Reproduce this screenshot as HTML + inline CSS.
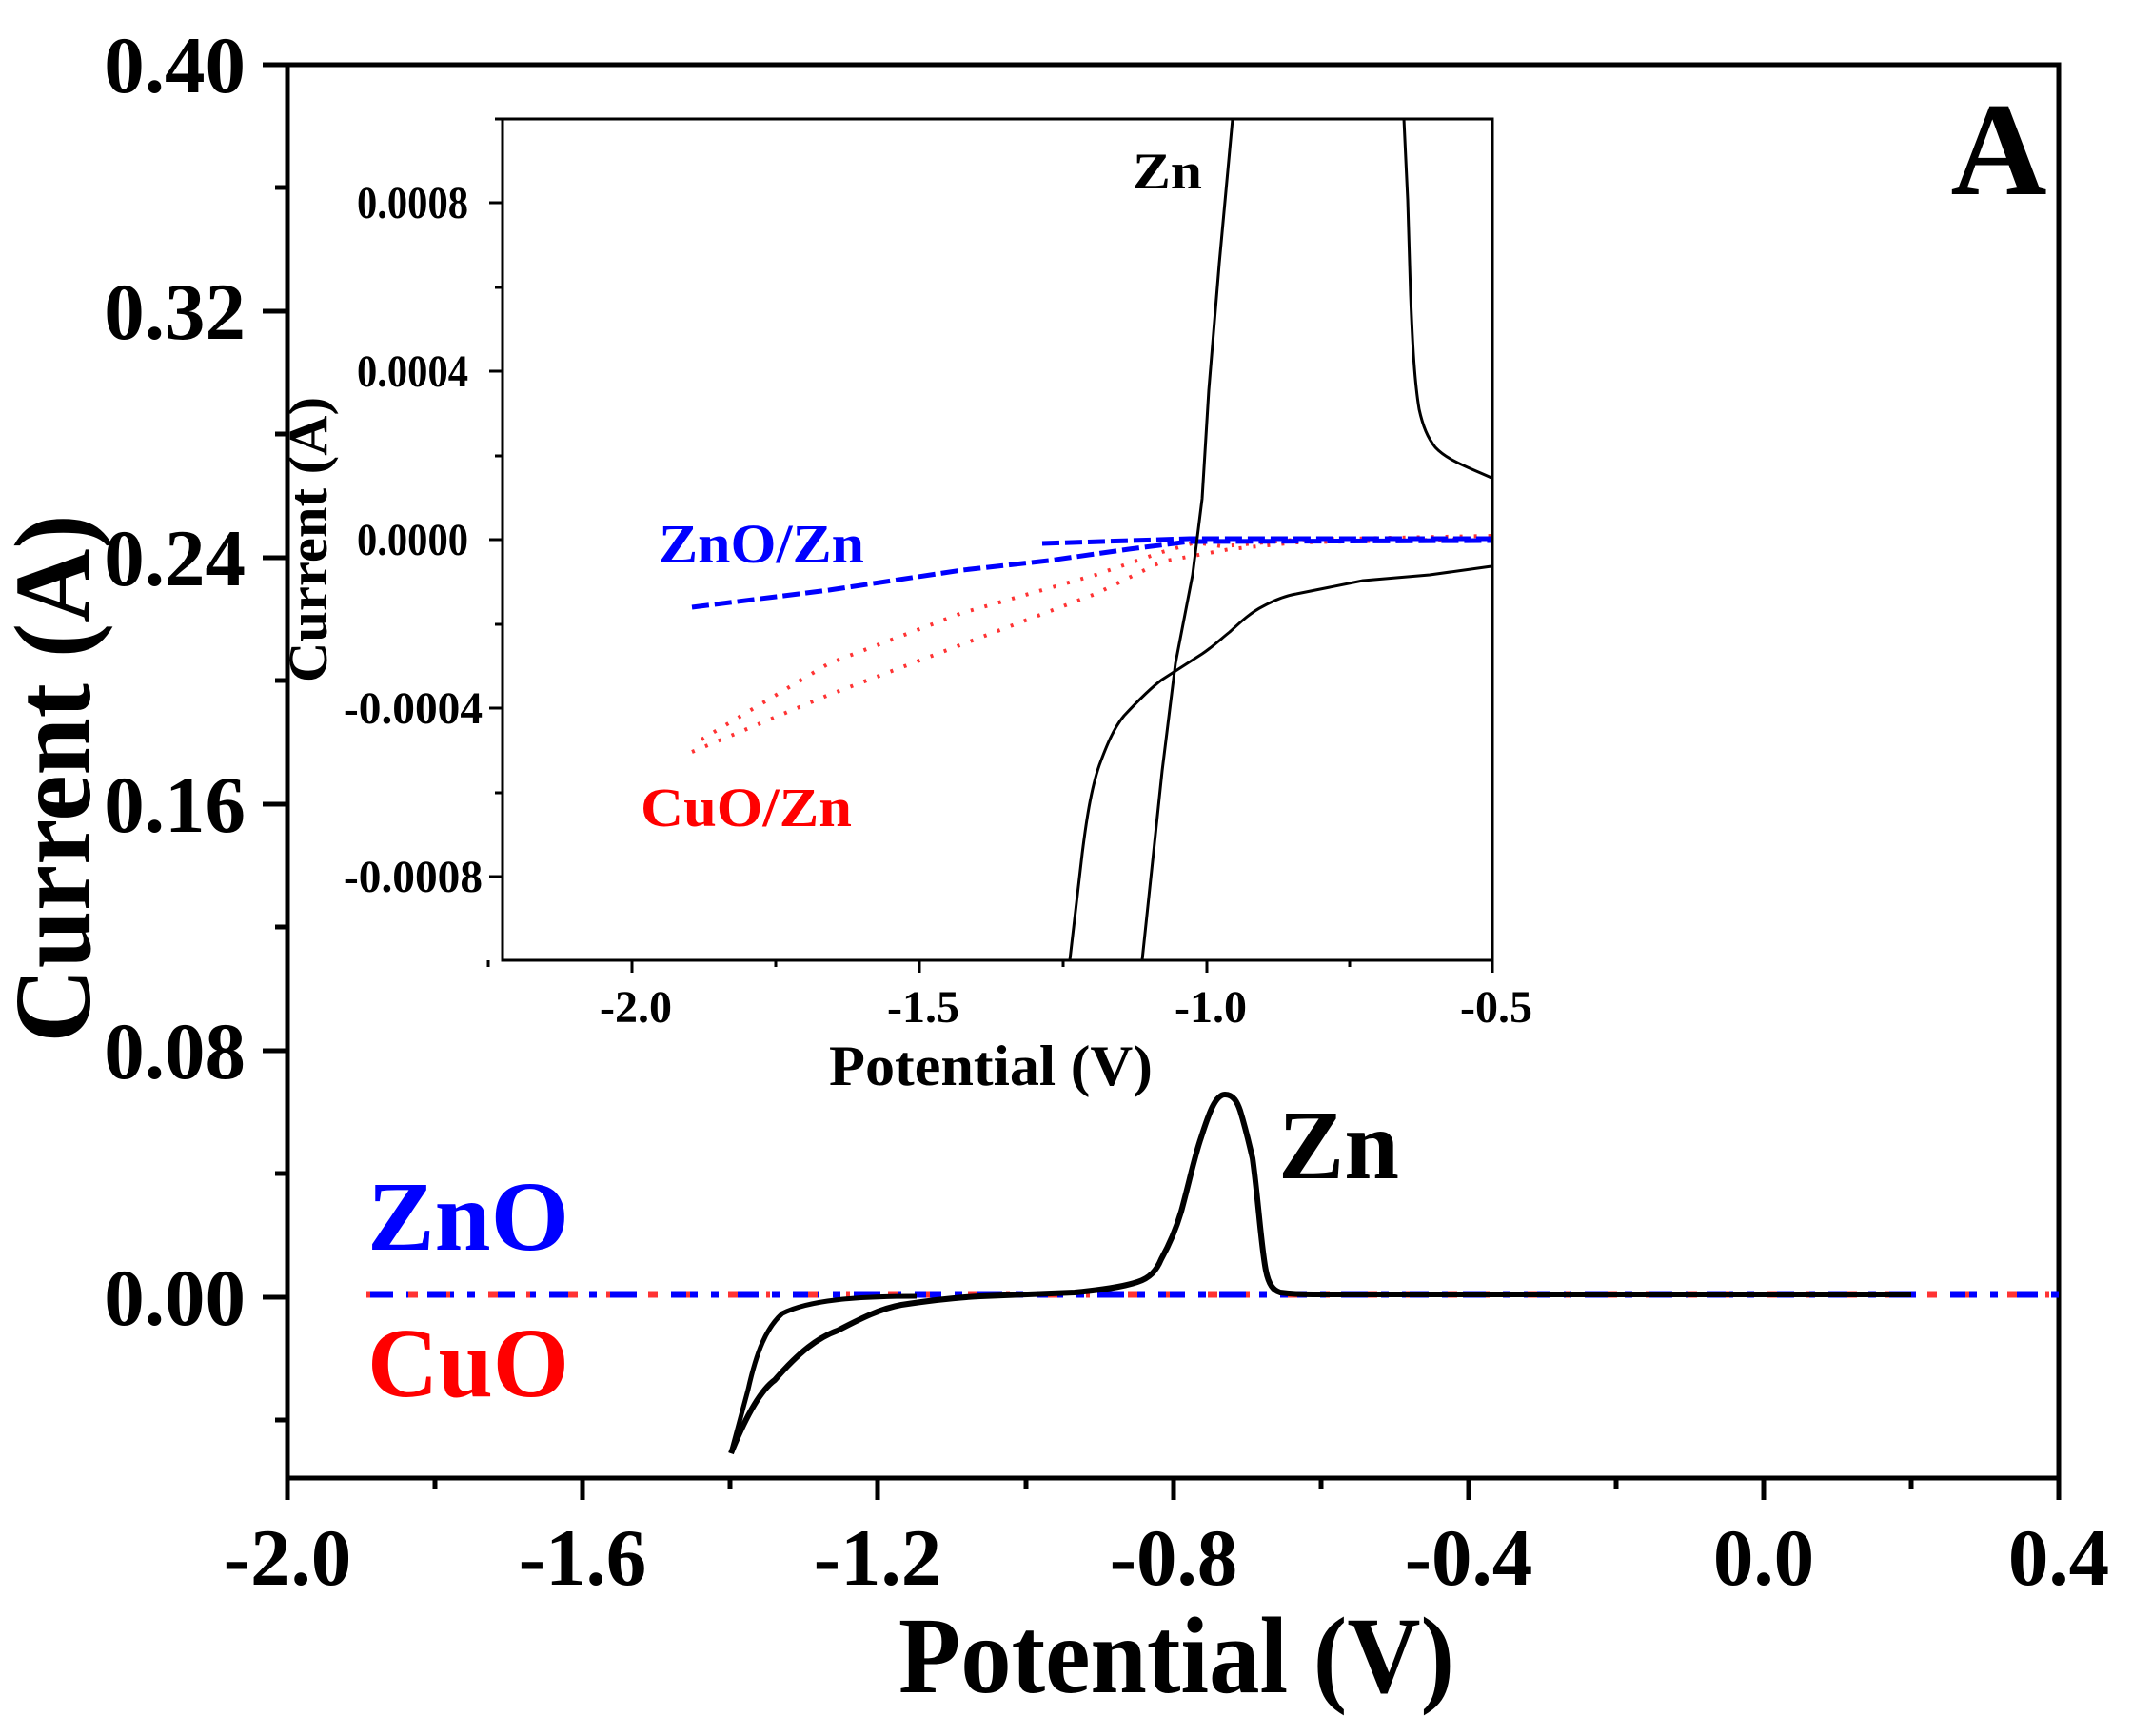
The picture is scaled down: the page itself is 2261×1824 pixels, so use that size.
<!DOCTYPE html>
<html><head><meta charset="utf-8"><style>html,body{margin:0;padding:0;background:#fff}svg{display:block}</style></head>
<body>
<svg width="2261" height="1824" viewBox="0 0 2261 1824" xmlns="http://www.w3.org/2000/svg" font-family="Liberation Serif, serif" font-weight="bold">
<rect x="302" y="68" width="1861" height="1485" fill="none" stroke="#000" stroke-width="5"/>
<g stroke="#000" stroke-width="5">
<line x1="302" y1="1553" x2="302" y2="1576"/><line x1="612" y1="1553" x2="612" y2="1576"/><line x1="922" y1="1553" x2="922" y2="1576"/><line x1="1233" y1="1553" x2="1233" y2="1576"/><line x1="1543" y1="1553" x2="1543" y2="1576"/><line x1="1853" y1="1553" x2="1853" y2="1576"/><line x1="2163" y1="1553" x2="2163" y2="1576"/>
<line x1="457" y1="1553" x2="457" y2="1565"/><line x1="767" y1="1553" x2="767" y2="1565"/><line x1="1078" y1="1553" x2="1078" y2="1565"/><line x1="1388" y1="1553" x2="1388" y2="1565"/><line x1="1698" y1="1553" x2="1698" y2="1565"/><line x1="2008" y1="1553" x2="2008" y2="1565"/>
<line x1="276" y1="68" x2="302" y2="68"/><line x1="276" y1="327" x2="302" y2="327"/><line x1="276" y1="586" x2="302" y2="586"/><line x1="276" y1="845" x2="302" y2="845"/><line x1="276" y1="1104" x2="302" y2="1104"/><line x1="276" y1="1363" x2="302" y2="1363"/>
<line x1="289" y1="197" x2="302" y2="197"/><line x1="289" y1="456" x2="302" y2="456"/><line x1="289" y1="715" x2="302" y2="715"/><line x1="289" y1="974" x2="302" y2="974"/><line x1="289" y1="1233" x2="302" y2="1233"/><line x1="289" y1="1492" x2="302" y2="1492"/>
</g>
<g font-size="85" text-anchor="end">
<text x="258" y="97">0.40</text><text x="258" y="356">0.32</text><text x="258" y="615">0.24</text><text x="258" y="874">0.16</text><text x="258" y="1133">0.08</text><text x="258" y="1392">0.00</text>
</g>
<g font-size="85" text-anchor="middle">
<text x="302" y="1665">-2.0</text><text x="612" y="1665">-1.6</text><text x="922" y="1665">-1.2</text><text x="1233" y="1665">-0.8</text><text x="1543" y="1665">-0.4</text><text x="1853" y="1665">0.0</text><text x="2163" y="1665">0.4</text>
</g>
<text x="944" y="1778" font-size="114" textLength="584" lengthAdjust="spacingAndGlyphs">Potential (V)</text>
<text transform="translate(94,818) rotate(-90)" font-size="114" text-anchor="middle" textLength="555" lengthAdjust="spacingAndGlyphs">Current (A)</text>
<text x="2100" y="204" font-size="140" text-anchor="middle">A</text>
<line x1="385" y1="1360" x2="2163" y2="1360" stroke="#0000ff" stroke-width="7" stroke-dasharray="28,14,8,14"/>
<line x1="385" y1="1360" x2="2163" y2="1360" stroke="#ff3333" stroke-width="7" stroke-dasharray="4,40,10,30"/>
<g fill="none" stroke="#000" stroke-width="5" stroke-linejoin="round">
<path d="M963,1362 C900,1362 850,1366 822,1380 C805,1395 795,1420 786,1460 L768,1527"/>
<path d="M768,1527 C785,1485 800,1460 814,1450 C840,1420 860,1405 880,1398 C905,1385 925,1375 947,1371 C980,1366 1010,1363 1030,1362 L1129,1358 C1160,1355 1180,1352 1195,1347 C1208,1343 1215,1335 1220,1323 C1230,1305 1236,1290 1241,1273 C1250,1240 1255,1215 1262,1195 C1270,1170 1277,1150 1287,1150 C1296,1150 1300,1158 1303,1167 C1310,1190 1313,1205 1316,1217 C1322,1260 1325,1310 1330,1335 C1333,1350 1338,1356 1345,1358 C1360,1360 1370,1360 1380,1360 L2008,1360" stroke-width="6"/>
</g>
<text x="1343" y="1238" font-size="104" textLength="127" lengthAdjust="spacingAndGlyphs">Zn</text>
<text x="386" y="1313" font-size="104" fill="#0000ff" textLength="212" lengthAdjust="spacingAndGlyphs">ZnO</text>
<text x="386" y="1467" font-size="104" fill="#ff0000" textLength="212" lengthAdjust="spacingAndGlyphs">CuO</text>
<rect x="528" y="125" width="1040" height="884" fill="#fff" stroke="#000" stroke-width="3"/>
<g stroke="#000" stroke-width="3">
<line x1="513" y1="1009" x2="513" y2="1016"/><line x1="664" y1="1009" x2="664" y2="1022"/><line x1="815" y1="1009" x2="815" y2="1016"/><line x1="966" y1="1009" x2="966" y2="1022"/><line x1="1117" y1="1009" x2="1117" y2="1016"/><line x1="1268" y1="1009" x2="1268" y2="1022"/><line x1="1418" y1="1009" x2="1418" y2="1016"/><line x1="1568" y1="1009" x2="1568" y2="1022"/>
<line x1="514" y1="213" x2="528" y2="213"/><line x1="514" y1="390" x2="528" y2="390"/><line x1="514" y1="567" x2="528" y2="567"/><line x1="514" y1="744" x2="528" y2="744"/><line x1="514" y1="921" x2="528" y2="921"/>
<line x1="520" y1="125" x2="528" y2="125"/><line x1="520" y1="302" x2="528" y2="302"/><line x1="520" y1="479" x2="528" y2="479"/><line x1="520" y1="656" x2="528" y2="656"/><line x1="520" y1="833" x2="528" y2="833"/>
</g>
<g font-size="48" text-anchor="end">
<text x="492" y="229" textLength="117" lengthAdjust="spacingAndGlyphs">0.0008</text><text x="492" y="406" textLength="117" lengthAdjust="spacingAndGlyphs">0.0004</text><text x="492" y="583" textLength="117" lengthAdjust="spacingAndGlyphs">0.0000</text><text x="507" y="760" textLength="146" lengthAdjust="spacingAndGlyphs">-0.0004</text><text x="507" y="937" textLength="146" lengthAdjust="spacingAndGlyphs">-0.0008</text>
</g>
<g font-size="48" text-anchor="middle">
<text x="668" y="1074">-2.0</text><text x="970" y="1074">-1.5</text><text x="1272" y="1074">-1.0</text><text x="1572" y="1074">-0.5</text>
</g>
<text x="871" y="1140" font-size="60" textLength="340" lengthAdjust="spacingAndGlyphs">Potential (V)</text>
<text transform="translate(343,567) rotate(-90)" font-size="58" text-anchor="middle" textLength="300" lengthAdjust="spacingAndGlyphs">Current (A)</text>
<g fill="none" stroke-linejoin="round">
<path d="M727,790 L871,730 L1011,677 L1151,624 L1221,590 L1292,577 L1362,570 L1567,566" stroke="#ff3333" stroke-width="4" stroke-dasharray="3,12"/>
<path d="M737,777 L871,697 L1011,644 L1151,604 L1221,580 L1256,570 L1284,574 L1362,567 L1567,563" stroke="#ff3333" stroke-width="4" stroke-dasharray="3,12"/>
<path d="M727,638 L871,620 L1011,599 L1102,589 L1186,577 L1250,569 L1567,568" stroke="#0000ff" stroke-width="5" stroke-dasharray="18,6"/>
<path d="M1095,571 L1250,566 L1567,566" stroke="#0000ff" stroke-width="5" stroke-dasharray="18,6"/>
<path d="M1200,1009 L1221,810 L1235,697 L1253,604 L1263,524 L1270,410 L1281,277 L1295,125" stroke="#000" stroke-width="3"/>
<path d="M1124,1009 L1137,897 C1141,865 1146,830 1155,804 C1162,785 1170,765 1181,752 C1195,737 1210,722 1221,714 L1263,687 C1275,679 1283,671 1292,664 C1305,652 1315,643 1327,637 C1340,630 1350,626 1362,624 L1432,610 L1502,604 L1567,595" stroke="#000" stroke-width="3"/>
<path d="M1475,125 L1479,210 L1482,310 C1484,360 1486,400 1491,430 C1495,448 1500,460 1508,470 C1520,483 1540,490 1567,502" stroke="#000" stroke-width="3"/>
</g>
<text x="1190" y="198" font-size="54" textLength="73" lengthAdjust="spacingAndGlyphs">Zn</text>
<text x="692" y="591" font-size="58" fill="#0000ff" textLength="216" lengthAdjust="spacingAndGlyphs">ZnO/Zn</text>
<text x="673" y="868" font-size="58" fill="#ff0000" textLength="222" lengthAdjust="spacingAndGlyphs">CuO/Zn</text>
</svg>
</body></html>
